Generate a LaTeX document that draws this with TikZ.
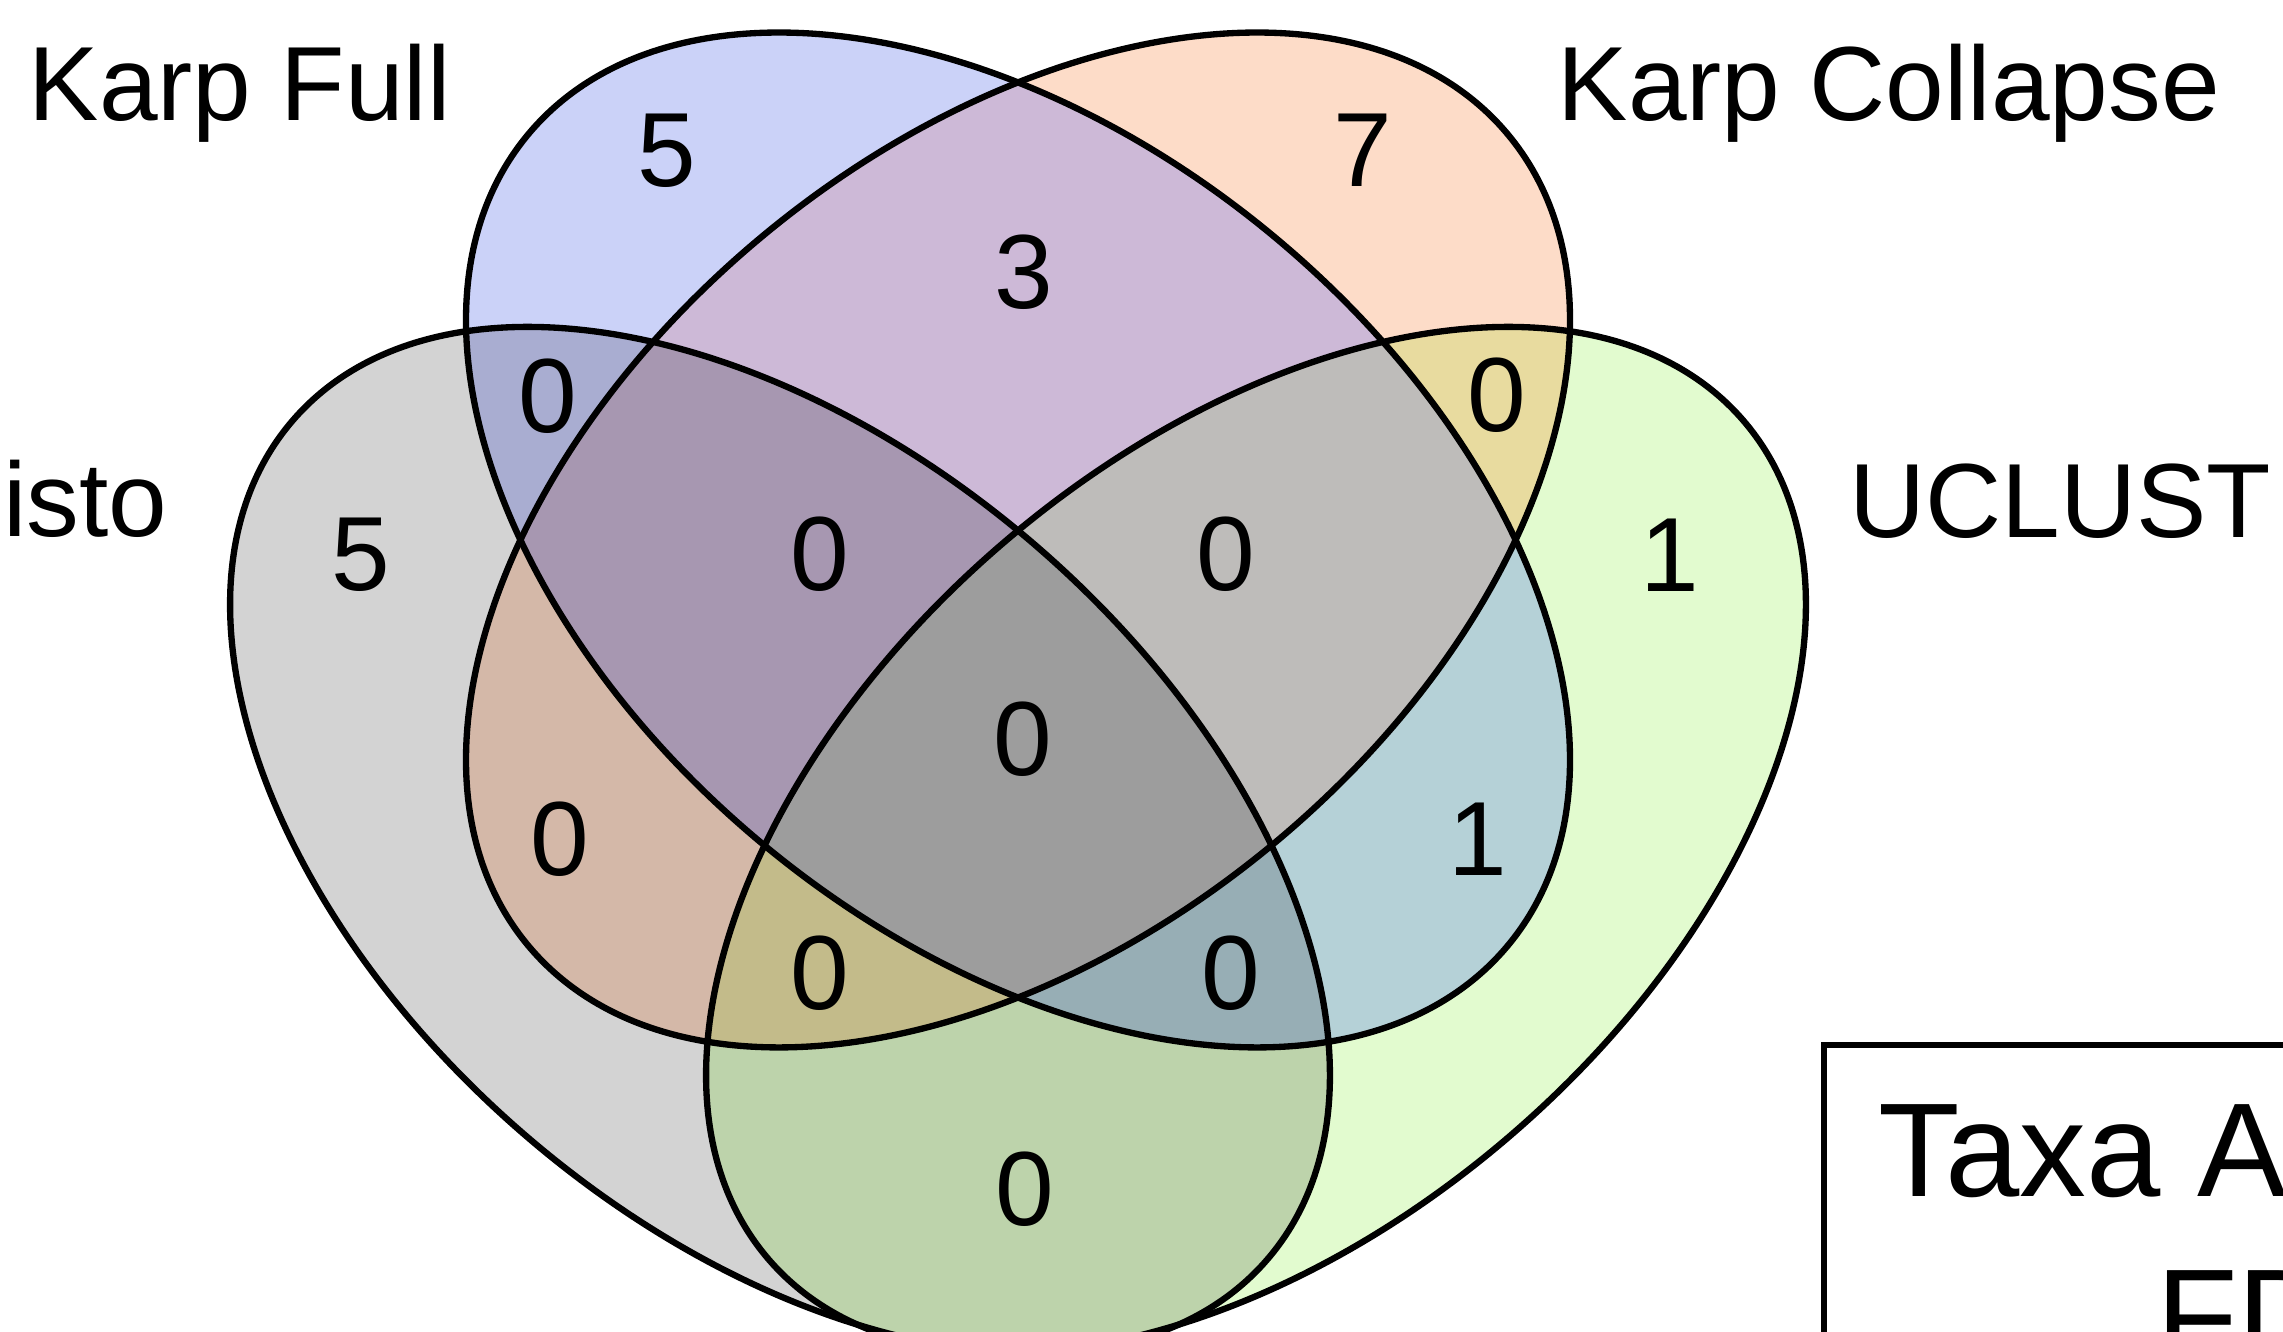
\documentclass[tikz,border=0pt]{standalone}
\usepackage{fontspec}
\setmainfont{Liberation Sans}
\definecolor{white}{RGB}{255,255,255}
\definecolor{black}{RGB}{0,0,0}
\definecolor{kristo}{RGB}{211,211,211}
\definecolor{karp_full}{RGB}{203,210,248}
\definecolor{karp_collapse}{RGB}{253,220,200}
\definecolor{uclust}{RGB}{226,251,207}
\definecolor{kr_kf}{RGB}{169,173,209}
\definecolor{kf_kc}{RGB}{205,185,215}
\definecolor{kc_uc}{RGB}{232,219,159}
\definecolor{kr_kc}{RGB}{212,184,168}
\definecolor{kf_uc}{RGB}{181,209,215}
\definecolor{kr_uc}{RGB}{189,211,171}
\definecolor{kr_kf_kc}{RGB}{167,151,177}
\definecolor{kf_kc_uc}{RGB}{190,188,186}
\definecolor{kr_kc_uc}{RGB}{195,187,138}
\definecolor{kr_kf_uc}{RGB}{151,174,181}
\definecolor{all_four}{RGB}{157,157,157}

% the four sets
\newcommand{\clipkarpfull}{\clip[rotate around={-39.5:(10.18,7.92)}] (10.18,7.92) ellipse [x radius=6.36, y radius=3.97];}
\newcommand{\clipkarpcollapse}{\clip[rotate around={39.5:(10.18,7.92)}] (10.18,7.92) ellipse [x radius=6.36, y radius=3.97];}
\newcommand{\clipkristo}{\clip[rotate around={-40.7:(7.80,4.92)}] (7.80,4.92) ellipse [x radius=6.43, y radius=3.90];}
\newcommand{\clipuclust}{\clip[rotate around={40.7:(12.56,4.92)}] (12.56,4.92) ellipse [x radius=6.43, y radius=3.90];}

\begin{document}
\begin{tikzpicture}[
	setlabel/.style={inner sep=0pt,font=\fontsize{30}{36}\selectfont},
	count/.style={inner sep=0pt,font=\fontsize{30}{36}\selectfont},
	boxtext/.style={inner sep=0pt,font=\fontsize{38}{46}\selectfont},
	outline/.style={draw=black,line width=1.8pt}]
	\useasboundingbox (0,0) rectangle (22.83,13.32);
	\fill[white] (0,0) rectangle (22.83,13.32);

	% regions, one set more at each pass
	\foreach \cliplist/\regcol in {\clipkristo/kristo,\clipkarpfull/karp_full,\clipkarpcollapse/karp_collapse,\clipuclust/uclust,
		\clipkristo\clipkarpfull/kr_kf,\clipkarpfull\clipkarpcollapse/kf_kc,\clipkarpcollapse\clipuclust/kc_uc,
		\clipkristo\clipkarpcollapse/kr_kc,\clipkarpfull\clipuclust/kf_uc,\clipkristo\clipuclust/kr_uc,
		\clipkristo\clipkarpfull\clipkarpcollapse/kr_kf_kc,\clipkarpfull\clipkarpcollapse\clipuclust/kf_kc_uc,
		\clipkristo\clipkarpcollapse\clipuclust/kr_kc_uc,\clipkristo\clipkarpfull\clipuclust/kr_kf_uc,
		\clipkristo\clipkarpfull\clipkarpcollapse\clipuclust/all_four}
	{
		\begin{scope}
			\cliplist
			\fill[fill=\regcol] (0,0) rectangle (22.83,13.32);
		\end{scope}
	}

	\draw[outline,rotate around={-40.7:(7.80,4.92)}] (7.80,4.92) ellipse [x radius=6.43, y radius=3.90];
	\draw[outline,rotate around={40.7:(12.56,4.92)}] (12.56,4.92) ellipse [x radius=6.43, y radius=3.90];
	\draw[outline,rotate around={-39.5:(10.18,7.92)}] (10.18,7.92) ellipse [x radius=6.36, y radius=3.97];
	\draw[outline,rotate around={39.5:(10.18,7.92)}] (10.18,7.92) ellipse [x radius=6.36, y radius=3.97];

	\foreach \nm/\x/\y/\n in {n_kf/6.67/11.81/5,n_kc/13.63/11.82/7,n_kf_kc/10.24/10.60/3,
		n_kr_kf/5.48/9.36/0,n_kc_uc/14.97/9.37/0,n_kr/3.61/7.77/5,n_uc/16.70/7.77/1,
		n_kr_kf_kc/8.20/7.78/0,n_kf_kc_uc/12.26/7.78/0,n_all/10.23/5.93/0,
		n_kr_kc/5.60/4.93/0,n_kf_uc/14.78/4.93/1,n_kr_kc_uc/8.20/3.59/0,
		n_kr_kf_uc/12.31/3.59/0,n_kr_uc/10.25/1.43/0}
		\node[count] (\nm) at (\x,\y) {\n};

	\node[setlabel,anchor=base west] (karp_full) at (0.28,12.115) {Karp Full};
	\node[setlabel,anchor=base west] (karp_collapse) at (15.57,12.115) {Karp Collapse};
	\node[setlabel,anchor=base west] (uclust) at (18.485,7.943) {UCLUST};
	\node[setlabel,anchor=base east] (kristo) at (1.68,7.955) {isto};

	\draw[black,line width=1.8pt] (18.24,2.87) rectangle (24.5,-1.5);
	\node[boxtext,anchor=base west] (taxa) at (18.78,1.35) {Taxa A};
	\node[boxtext,anchor=base west] (fdr) at (21.555,-0.305) {FD};
\end{tikzpicture}
\end{document}
